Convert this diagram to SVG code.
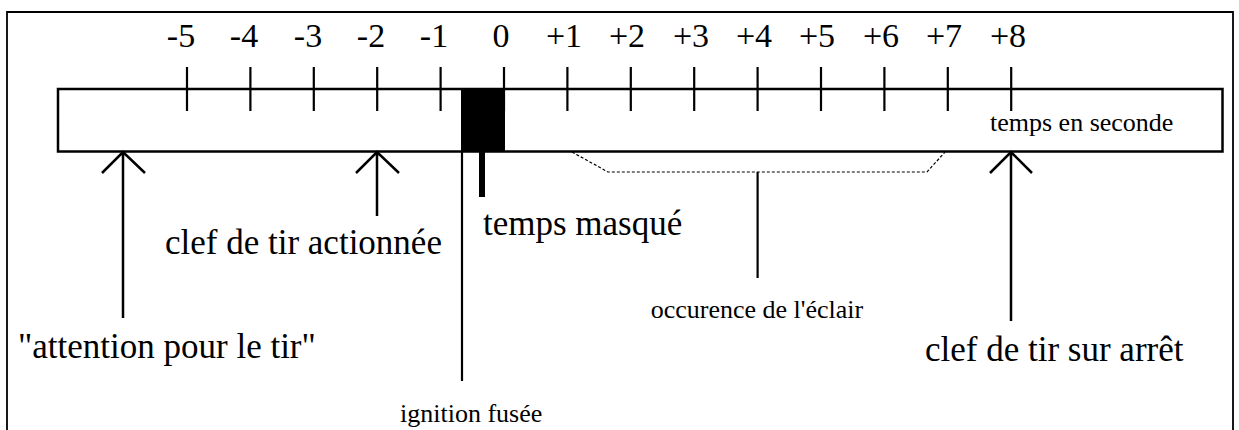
<svg xmlns="http://www.w3.org/2000/svg" width="1239" height="430" viewBox="0 0 1239 430">
<style>
text{font-family:"Liberation Serif","Times New Roman",serif;fill:#000}
.tl{font-size:34px;text-anchor:middle}
.big{font-size:35px}
.sm{font-size:26px}
.ln{stroke:#000;fill:none}
</style>
<rect x="0" y="0" width="1239" height="430" fill="#fff"/>
<g id="frame"><path class="ln" d="M7,431 V12 H1233 V431" stroke-width="1.8"/></g>
<g id="timeline">
<rect x="58" y="89" width="1164.5" height="62.5" class="ln" stroke-width="2.5"/>
<rect x="461" y="88" width="44" height="64" fill="#000"/>
<g class="ln" stroke-width="2.2">
<path d="M187,67V111M250.4,67V111M313.8,67V111M377.2,67V111M440.6,67V111M504,67V111M567.4,67V111M630.8,67V111M694.2,67V111M757.6,67V111M821,67V111M884.4,67V111M947.8,67V111M1011.2,67V111"/>
</g>
<g class="tl">
<text x="181" y="47">-5</text><text x="244" y="47">-4</text><text x="308" y="47">-3</text><text x="371" y="47">-2</text><text x="434" y="47">-1</text><text x="501" y="47">0</text><text x="564" y="47">+1</text><text x="627" y="47">+2</text><text x="691" y="47">+3</text><text x="754" y="47">+4</text><text x="817" y="47">+5</text><text x="881" y="47">+6</text><text x="944" y="47">+7</text><text x="1008" y="47">+8</text>
</g>
<text class="sm" x="990" y="131">temps en seconde</text>
</g>
<g id="connectors">
<path class="ln" stroke-width="2.5" d="M123,152V318M102,173L123,152L145,173"/>
<path class="ln" stroke-width="2.5" d="M377,152V216M356,173L377,152L399,173"/>
<path class="ln" stroke-width="2.5" d="M1011,152V321M990,173L1011,152L1032,173"/>
<path class="ln" stroke-width="2.2" d="M462,152V381"/>
<path d="M479,151H485V197H479Z" fill="#000"/>
<path class="ln" stroke-width="1.2" stroke-dasharray="3,2" d="M572,152L608,172H927L945,152"/>
<path class="ln" stroke-width="2.2" d="M757.6,172V278"/>
</g>
<g id="label-attention"><text class="big" x="18" y="358">"attention pour le tir"</text></g>
<g id="label-actionnee"><text class="big" x="165" y="254">clef de tir actionnée</text></g>
<g id="label-masque"><text class="big" x="483" y="235">temps masqué</text></g>
<g id="label-eclair"><text class="sm" x="757" y="318" text-anchor="middle">occurence de l'éclair</text></g>
<g id="label-arret"><text class="big" x="925" y="361">clef de tir sur arrêt</text></g>
<g id="label-ignition"><text class="sm" x="400" y="422">ignition fusée</text></g>
</svg>
